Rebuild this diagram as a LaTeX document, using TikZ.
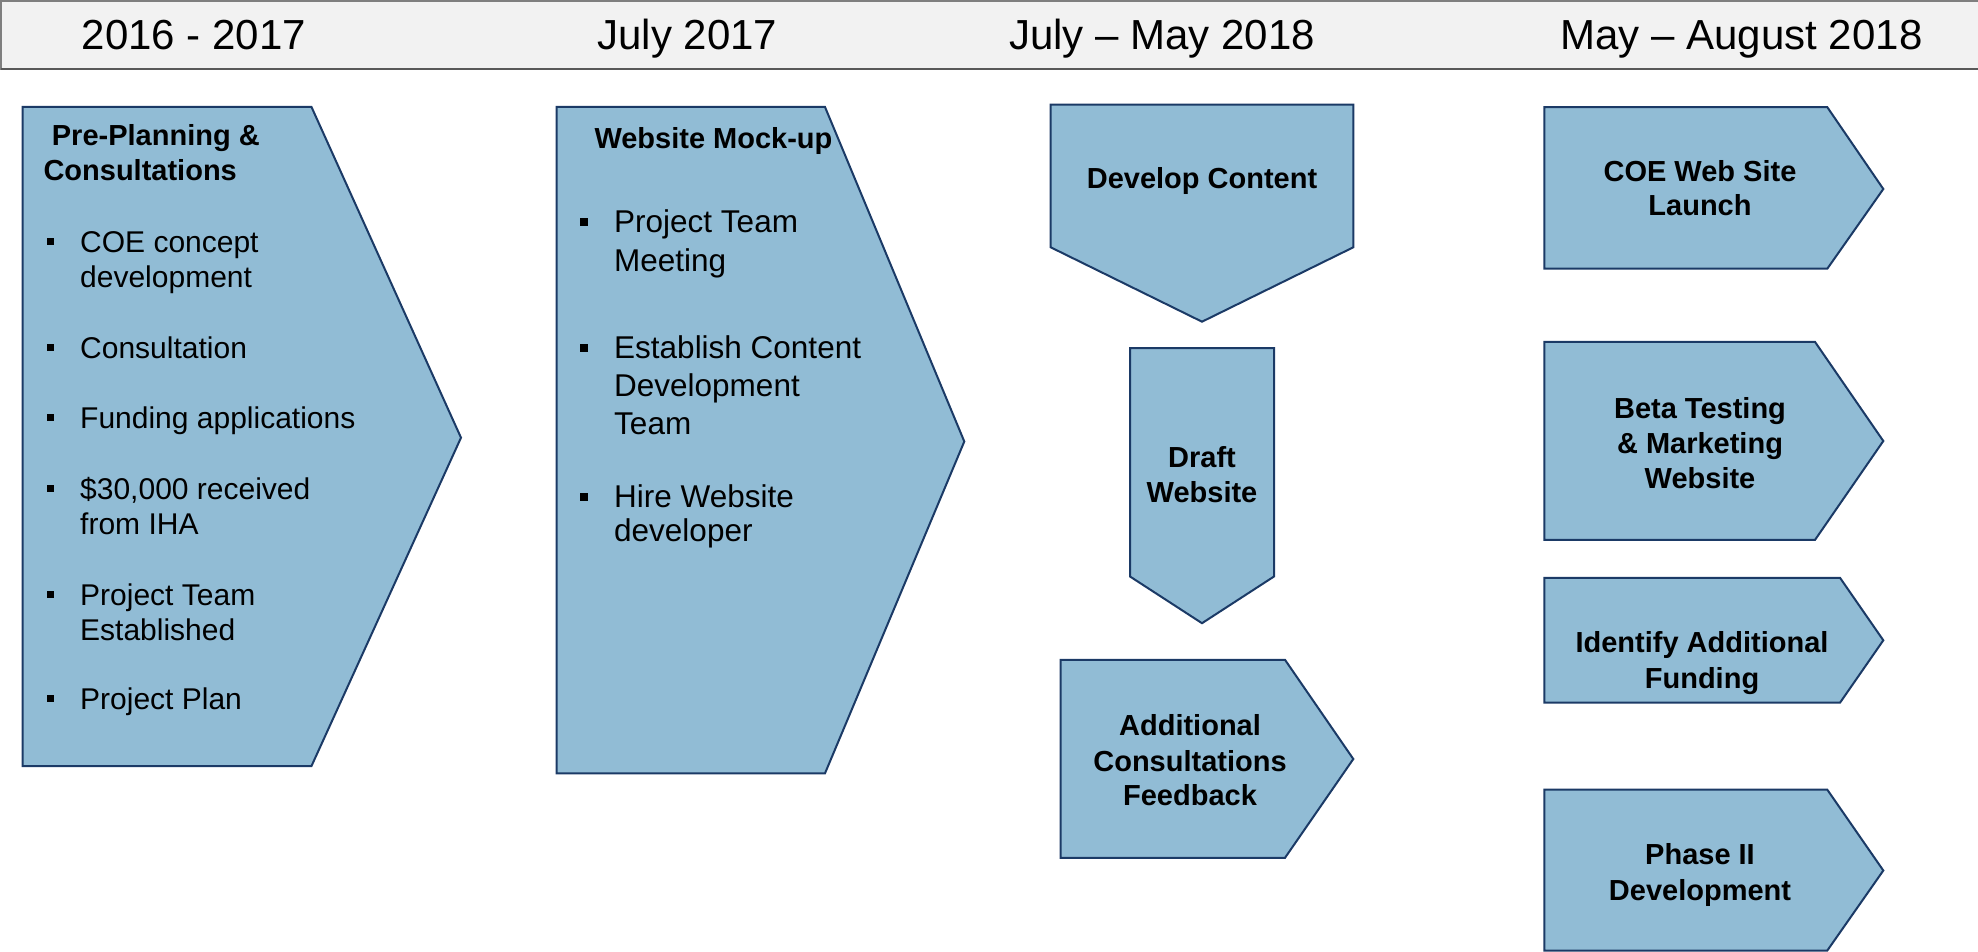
\documentclass[tikz,border=0pt]{standalone}
\usepackage{fontspec}
\setmainfont{Liberation Sans}
\definecolor{boxfill}{HTML}{91BCD5}
\definecolor{boxline}{HTML}{1B3A66}
\definecolor{bandfill}{HTML}{F2F2F2}
\definecolor{bandline}{HTML}{7F7F7F}

\begin{document}
\begin{tikzpicture}[x=1pt,y=-1pt,
    box/.style={fill=boxfill,draw=boxline,line width=2pt,line join=miter},
    hd/.style={anchor=base,inner sep=0pt,font=\fontsize{42}{50}\selectfont},
    ttl/.style={anchor=base west,inner sep=0pt,font=\bfseries\fontsize{29}{35}\selectfont},
    itm/.style={anchor=base west,inner sep=0pt,font=\fontsize{30}{35}\selectfont},
    itmb/.style={anchor=base west,inner sep=0pt,font=\fontsize{31.5}{38}\selectfont},
    lbl/.style={anchor=base,inner sep=0pt,font=\bfseries\fontsize{29}{35}\selectfont}]
\useasboundingbox (0,0) rectangle (1978,952);

% header band
\draw[fill=bandfill,draw=bandline,line width=1.5pt] (1,1) rectangle (1990,69);
\draw[bandline!70!black,line width=2pt] (1,69.5) -- (1978,69.5);
\node[hd] (h1) at (194,50) {2016 - 2017};
\node[hd] (h2) at (687.5,50) {July 2017};
\node[hd] (h3) at (1162,50) {July – May 2018};
\node[hd] (h4) at (1741.5,50) {May – August 2018};

% 2016 - 2017
\draw[box] (22.7,107) -- (311.5,107) -- (461,437.7) -- (311.5,766) -- (22.7,766) -- cycle;
\node[ttl] (p1) at (51.7,146) {Pre-Planning \&};
\node[ttl] (p2) at (43.3,181) {Consultations};
\node[itm] (p3) at (80,252) {COE concept};
\node[itm] (p4) at (80,287.3) {development};
\node[itm] (p5) at (80,358) {Consultation};
\node[itm] (p6) at (80,428.6) {Funding applications};
\node[itm] (p7) at (80,499.2) {\$30,000 received};
\node[itm] (p8) at (80,534.5) {from IHA};
\node[itm] (p9) at (80,605.1) {Project Team};
\node[itm] (p10) at (80,640.4) {Established};
\node[itm] (p11) at (80,709) {Project Plan};
\fill (46.7,237.5) rectangle +(7,7);
\fill (46.7,343.5) rectangle +(7,7);
\fill (46.7,414.1) rectangle +(7,7);
\fill (46.7,484.7) rectangle +(7,7);
\fill (46.7,590.6) rectangle +(7,7);
\fill (46.7,694.5) rectangle +(7,7);

% July 2017
\draw[box] (556.7,107) -- (825,107) -- (964.3,441.5) -- (825,773.3) -- (556.7,773.3) -- cycle;
\node[ttl] (w1) at (594.3,149) {Website Mock-up};
\node[itmb] (w2) at (614,233) {Project Team};
\node[itmb] (w3) at (614,271) {Meeting};
\node[itmb] (w4) at (614,358.5) {Establish Content};
\node[itmb] (w5) at (614,396.5) {Development};
\node[itmb] (w6) at (614,434.5) {Team};
\node[itmb] (w7) at (614,507.5) {Hire Website};
\node[itmb] (w8) at (614,541) {developer};
\fill (580,218) rectangle +(8,8);
\fill (580,343.5) rectangle +(8,8);
\fill (580,492.5) rectangle +(8,8);

% July - May 2018
\draw[box] (1050.7,104.7) -- (1353.3,104.7) -- (1353.3,247.3) -- (1202,321.7) -- (1050.7,247.3) -- cycle;
\node[lbl] (d1) at (1202,188.4) {Develop Content};
\draw[box] (1130,348.2) -- (1274,348.2) -- (1274,576.5) -- (1202,623.2) -- (1130,576.5) -- cycle;
\node[lbl] (d2) at (1202,467) {Draft};
\node[lbl] (d3) at (1202,502) {Website};
\draw[box] (1060.7,659.8) -- (1285,659.8) -- (1353.3,759) -- (1285,857.8) -- (1060.7,857.8) -- cycle;
\node[lbl] (d4) at (1190,735.5) {Additional};
\node[lbl] (d5) at (1190,771) {Consultations};
\node[lbl] (d6) at (1190,805) {Feedback};

% May - August 2018
\draw[box] (1544.3,107.2) -- (1827.3,107.2) -- (1883.3,189) -- (1827.3,268.7) -- (1544.3,268.7) -- cycle;
\node[lbl] (m1) at (1700,182) {COE Web Site};
\node[lbl] (m2) at (1700,216) {Launch};
\draw[box] (1544.3,341.9) -- (1815,341.9) -- (1883.3,441) -- (1815,539.9) -- (1544.3,539.9) -- cycle;
\node[lbl] (m3) at (1700,418) {Beta Testing};
\node[lbl] (m4) at (1700,453) {\& Marketing};
\node[lbl] (m5) at (1700,488.5) {Website};
\draw[box] (1544.3,577.8) -- (1840,577.8) -- (1883.3,640.3) -- (1840,702.7) -- (1544.3,702.7) -- cycle;
\node[lbl] (m6) at (1702,652.5) {Identify Additional};
\node[lbl] (m7) at (1702,688) {Funding};
\draw[box] (1544.3,789.7) -- (1827.3,789.7) -- (1883.3,870.5) -- (1827.3,950.5) -- (1544.3,950.5) -- cycle;
\node[lbl] (m8) at (1700,864.5) {Phase II};
\node[lbl] (m9) at (1700,900) {Development};
\end{tikzpicture}
\end{document}
